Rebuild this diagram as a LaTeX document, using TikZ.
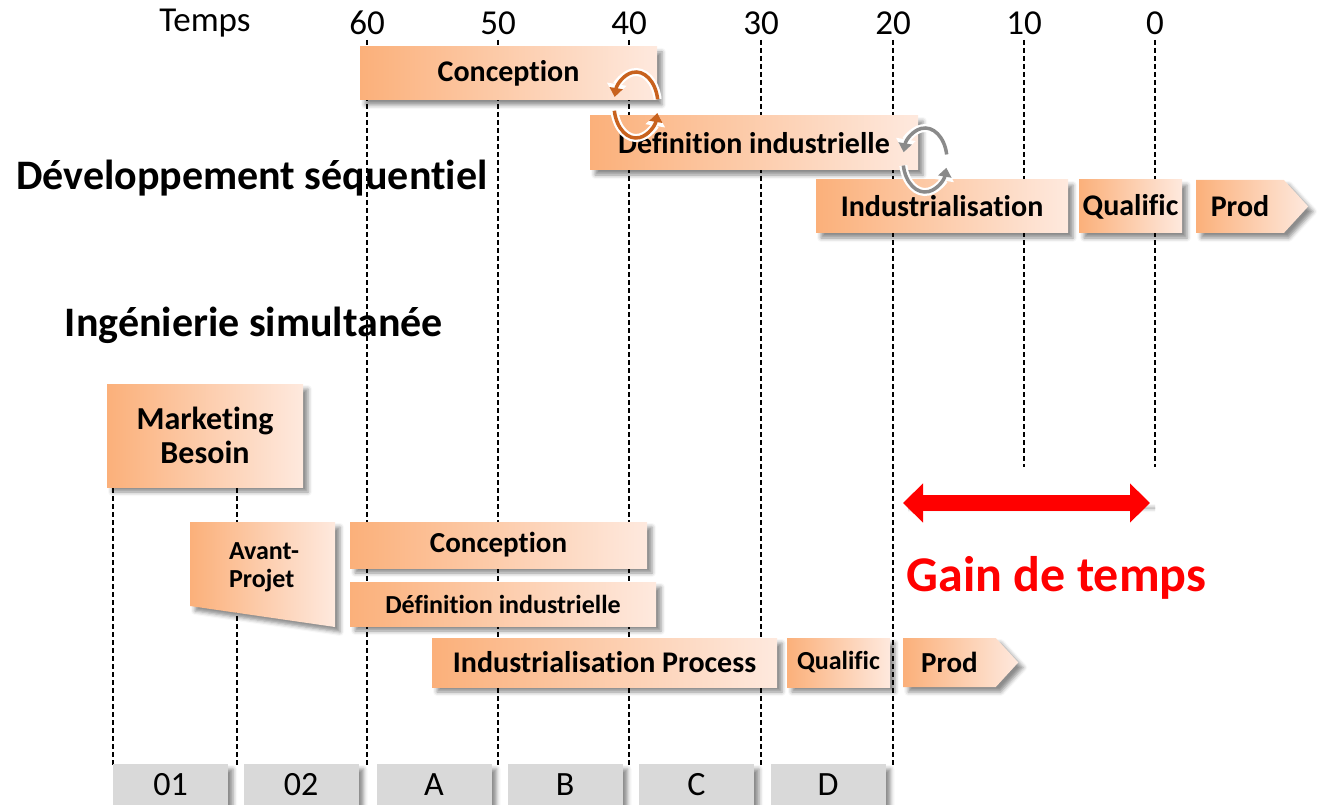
\documentclass[tikz,border=0pt]{standalone}
\usepackage{fontspec}
\setmainfont{Carlito}[Ligatures={NoCommon,NoContextual},Contextuals={NoAlternate}]
\usetikzlibrary{shapes.symbols,shadows.blur,arrows.meta}
\definecolor{phaseL}{HTML}{FBB07A}
\definecolor{phaseR}{HTML}{FEE9DE}
\definecolor{loopO}{HTML}{C8621E}
\definecolor{loopG}{HTML}{8A8A8A}
\definecolor{stageG}{HTML}{D9D9D9}
\begin{document}
\begin{tikzpicture}[x=1pt,y=-1pt,
    shade/.style={blur shadow={shadow xshift=5pt,shadow yshift=-5pt,shadow blur radius=4pt,shadow opacity=45}},
    phase/.style={shade,left color=phaseL,right color=phaseR,inner sep=0pt,
      font=\fontsize{30}{32}\selectfont\bfseries},
    prodarrow/.style={phase,signal,signal to=east,signal pointer angle=95},
    grid/.style={dash pattern=on 5pt off 3pt,line width=1.4pt},
    stage/.style={shade,fill=stageG,inner sep=0pt,minimum width=115pt,minimum height=42pt,
      font=\fontsize{34}{36}\selectfont},
    heading/.style={font=\fontsize{42}{44}\selectfont\bfseries},
    loop/.style={draw=white,line width=8pt,-{Triangle[length=13pt,width=19pt]},
      postaction={draw=#1,line width=3.5pt,-{Triangle[length=9pt,width=13pt]}}}]
  \useasboundingbox (0,0) rectangle (1320,805);
  % time axis
  \draw[font=\fontsize{35}{36}\selectfont]
    (205,23) node (temps){Temps}
    (367,23) node (t60){60}
    (498,23) node (t50){50}
    (629,23) node (t40){40}
    (761,23) node (t30){30}
    (893,23) node (t20){20}
    (1024,23) node (t10){10}
    (1155,23) node (t0){0};
  \begin{scope}[grid]
    \draw (367,40) -- (367,765);
    \draw (498,40) -- (498,765);
    \draw (629,40) -- (629,765);
    \draw (761,40) -- (761,765);
    \draw (893,40) -- (893,765);
    \draw (1024,40) -- (1024,467);
    \draw (1155,40) -- (1155,467);
    \draw (113,384) -- (113,765);
    \draw (237,384) -- (237,765);
  \end{scope}
  % sequential development
  \node[heading] (seq) at (252,178) {Développement séquentiel};
  \node[phase,minimum width=297pt,minimum height=53pt] (conc1) at (508.5,73.5) {Conception};
  \node[phase,minimum width=328pt,minimum height=54pt] (defi1) at (754,143) {Définition industrielle};
  \node[phase,minimum width=252pt,minimum height=53pt] (indu1) at (942,206.5) {Industrialisation};
  \node[phase,minimum width=103pt,minimum height=53pt] (qual1) at (1130.5,206.5) {Qualific};
  \node[prodarrow,minimum width=112pt,minimum height=53pt] (prod1) at (1240,206.5) {Prod};
  \draw[loop=loopO] (636,105) ++(-10:22 and 33) arc[start angle=-10,end angle=-166,x radius=22,y radius=33];
  \draw[loop=loopO] (636,105) ++(170:22 and 33) arc[start angle=170,end angle=14,x radius=22,y radius=33];
  \draw[loop=loopG] (925,160) ++(-10:22 and 32) arc[start angle=-10,end angle=-166,x radius=22,y radius=32];
  \draw[loop=loopG] (925,160) ++(170:22 and 32) arc[start angle=170,end angle=14,x radius=22,y radius=32];
  % simultaneous engineering
  \node[heading] (simu) at (254,325) {Ingénierie simultanée};
  \node[phase,minimum width=196pt,minimum height=103pt,align=center,
    font=\fontsize{32}{34}\selectfont\bfseries] (mark) at (205,435.5) {Marketing\\Besoin};
  \path[shade,left color=phaseL,right color=phaseR] (190,522) -- (335,522) -- (335,627) -- (190,606) -- cycle;
  \node[align=left,font=\fontsize{26}{28}\selectfont\bfseries] (avant) at (264,567) {Avant-\\Projet};
  \node[phase,minimum width=297pt,minimum height=46pt,font=\fontsize{29}{30}\selectfont\bfseries] (conc2) at (498.5,545) {Conception};
  \node[phase,minimum width=306pt,minimum height=44pt,font=\fontsize{26}{28}\selectfont\bfseries] (defi2) at (503,604) {Définition industrielle};
  \node[phase,minimum width=345pt,minimum height=49pt] (indu2) at (604.5,662.5) {Industrialisation Process};
  \node[phase,minimum width=103pt,minimum height=49pt,font=\fontsize{26}{28}\selectfont\bfseries] (qual2) at (838.5,662.5) {Qualific};
  \node[prodarrow,minimum width=115pt,minimum height=49pt,font=\fontsize{29}{30}\selectfont\bfseries] (prod2) at (949.5,662.5) {Prod};
  % time gained
  \coordinate (gainL) at (903,503);
  \coordinate (gainR) at (1150,503);
  \draw[red,line width=16pt,shade,{Triangle[length=20pt,width=38pt]}-{Triangle[length=20pt,width=38pt]}] (gainL) -- (gainR);
  \node[red,font=\fontsize{50}{52}\selectfont\bfseries] (gain) at (1056.5,578) {Gain de temps};
  % stages
  \node[stage] (s01) at (170.5,785) {01};
  \node[stage] (s02) at (301,785) {02};
  \node[stage] (sA) at (434,785) {A};
  \node[stage] (sB) at (565,785) {B};
  \node[stage] (sC) at (696.5,785) {C};
  \node[stage] (sD) at (828,785) {D};
\end{tikzpicture}
\end{document}
